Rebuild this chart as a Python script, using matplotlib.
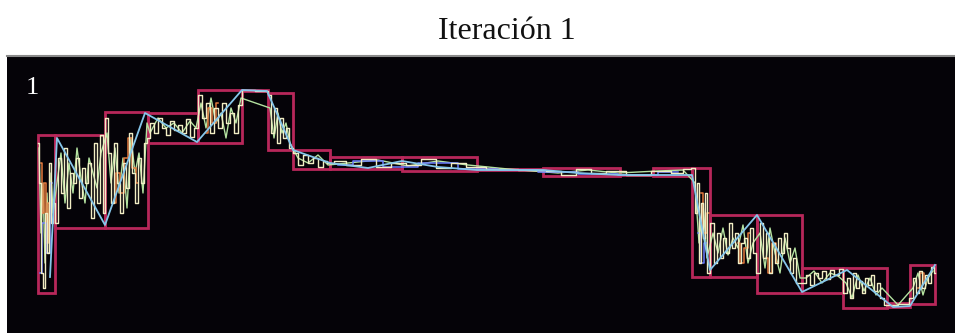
import numpy as np
import matplotlib.pyplot as plt
from matplotlib.patches import Rectangle

# segment boxes: start, end, min, max (time index / amplitude)
seg_start = [0, 17, 67, 110, 160, 204, 230, 255, 292, 364, 439, 505, 582, 615, 654, 672, 719, 764, 805, 849, 872]
seg_end = [17, 67, 110, 160, 204, 230, 255, 292, 364, 439, 505, 582, 615, 654, 672, 719, 764, 805, 849, 872, 897]
seg_min = [40, 105, 105, 190, 190, 242, 183, 164, 164, 162, 163, 157, 158, 157, 56, 56, 40, 40, 25, 26, 29]
seg_max = [198, 198, 221, 220, 243, 243, 240, 183, 176, 176, 164, 165, 158, 165, 165, 118, 118, 65, 65, 30, 68]

# pale / white trace
t_w = [0, 2, 4, 6, 8, 10, 12, 14, 16,
       18, 21, 24, 27, 30, 33, 36, 39, 42, 45, 48, 51, 54, 57, 60, 63, 66,
       68, 71, 74, 77, 80, 83, 86, 89, 92, 95, 98, 101, 104, 107,
       110, 114, 118, 122, 126, 130, 134, 138, 142, 146, 150, 154, 158,
       162, 166, 170, 174, 178, 182, 186, 190, 194, 198, 202,
       206, 228,
       231, 234, 237, 240, 243, 246, 249, 253,
       257, 262, 267, 272, 277, 282, 287, 291,
       300, 315, 330, 345, 360, 375, 390, 405, 420, 435,
       460, 500, 515, 530, 545, 560, 575, 600, 625, 640, 650,
       656, 658, 660, 662, 664, 666, 668, 670,
       674, 677, 680, 683, 686, 689, 692, 695, 698, 701, 704, 707, 710, 713, 716,
       720, 723, 726, 729, 732, 735, 738, 741, 744, 747, 750, 753, 756, 760,
       766, 770, 774, 778, 782, 786, 790, 794, 798, 803,
       807, 810, 813, 816, 819, 822, 825, 828, 831, 834, 837, 840, 844, 848,
       852, 868,
       873, 876, 879, 882, 885, 888, 891, 894, 897]
v_w = [190, 150, 60, 45, 120, 80, 170, 110, 130,
       110, 175, 140, 185, 125, 160, 150, 175, 135, 165, 150, 170, 115, 190, 130, 198, 120,
       215, 180, 130, 190, 150, 120, 170, 145, 200, 160, 130, 175, 150, 190,
       195, 210, 200, 215, 205, 198, 212, 203, 208, 200, 214, 196, 205,
       238, 215, 230, 200, 225, 205, 230, 210, 220, 200, 228,
       243, 242,
       238, 200, 225, 190, 215, 195, 205, 185,
       180, 168, 178, 170, 175, 166, 172, 170,
       172, 168, 174, 166, 170, 168, 174, 165, 170, 166,
       164, 163, 162, 158, 164, 160, 162, 158, 162, 160, 164,
       165, 120, 150, 70, 130, 95, 140, 60,
       110, 70, 100, 75, 95, 80, 110, 85, 100, 70, 90, 95, 75, 105, 80,
       60, 110, 75, 100, 60, 90, 70, 95, 80, 100, 85, 60, 75, 50,
       50, 58, 48, 60, 55, 62, 54, 63, 58, 64,
       40, 55, 35, 60, 45, 52, 40, 55, 48, 58, 42, 50, 35, 28,
       28, 29,
       35, 55, 40, 62, 45, 58, 50, 66, 60]

# light green trace
t_g = [1, 3, 5, 7, 9, 11, 13, 15,
       19, 23, 27, 31, 35, 39, 43, 47, 51, 55, 59, 63,
       69, 73, 77, 81, 85, 89, 93, 97, 101, 105, 109,
       112, 120, 128, 136, 144, 152, 158,
       163, 168, 173, 178, 183, 188, 193, 198, 203,
       232, 236, 240, 244, 248, 252,
       260, 270, 280, 290,
       310, 340, 370, 400, 430,
       470, 520, 550, 580, 620, 645,
       657, 661, 665, 669,
       675, 680, 685, 690, 695, 700, 705, 710, 715,
       722, 727, 732, 737, 742, 747, 752, 757, 762,
       768, 776, 784, 792, 800,
       808, 814, 820, 826, 832, 838, 844,
       860,
       875, 880, 885, 890, 895]
v_g = [185, 100, 150, 70, 140, 90, 160, 120,
       150, 180, 130, 170, 140, 185, 155, 130, 175, 160, 145, 180,
       200, 150, 185, 140, 175, 125, 195, 160, 180, 140, 210,
       200, 215, 205, 210, 200, 212, 205,
       230, 205, 235, 210, 220, 195, 225, 210, 235,
       225, 195, 220, 200, 210, 190,
       175, 170, 178, 168,
       170, 173, 167, 172, 168,
       164, 160, 163, 160, 162, 163,
       150, 90, 130, 75,
       100, 80, 105, 78, 95, 85, 108, 70, 90,
       100, 65, 105, 80, 60, 95, 70, 85, 55,
       55, 62, 50, 60, 57,
       50, 35, 58, 42, 55, 38, 45,
       28,
       45, 60, 38, 55, 62]

# orange fragments
t_o = [3, 5, 7, 9, 11, 76, 80, 84, 88, 92, 96, 100, 168, 172, 176, 180,
       663, 667, 671, 700, 704, 708, 712, 728, 732, 736, 740, 880, 884, 888]
v_o = [170, 120, 150, 90, 130, 130, 160, 140, 175, 195, 165, 150, 200, 225, 210, 230,
       140, 100, 120, 90, 70, 85, 100, 75, 60, 90, 70, 45, 60, 50]
o_groups = [5, 7, 4, 3, 4, 4, 3]

# blue trace
t_b = [2, 6, 10, 14, 300, 330, 360, 400, 440, 480, 520, 560, 600, 640, 660, 664, 668]
v_b = [60, 110, 80, 150, 168, 172, 166, 170, 164, 163, 161, 159, 158, 161, 100, 70, 90]
b_groups = [4, 10, 3]

# cyan trace (sparse)
t_c = [12, 19, 67, 107, 159, 204, 229, 255, 292, 330, 364, 400, 439, 505, 540, 582,
       615, 654, 672, 719, 764, 809, 855, 872, 897]
v_c = [56, 195, 108, 220, 191, 243, 242, 183, 170, 165, 172, 166, 163, 163, 160, 158,
       158, 158, 63, 118, 41, 63, 26, 27, 68]

fig = plt.figure(figsize=(9.55, 3.33), dpi=100)
ax = fig.add_axes([7 / 955, 0, 948 / 955, 277 / 333])
ax.set_facecolor("#050308")
ax.set_xlim(-31, 917)
ax.set_ylim(0, 277)
ax.set_xticks([])
ax.set_yticks([])
for s in ["left", "right", "bottom"]:
    ax.spines[s].set_visible(False)
ax.spines["top"].set_color("#8a8a8a")
ax.spines["top"].set_linewidth(1.5)

for x0, x1, lo, hi in zip(seg_start, seg_end, seg_min, seg_max):
    ax.add_patch(Rectangle((x0, lo), x1 - x0, hi - lo, fill=False,
                           edgecolor="#b8275a", linewidth=2.0, zorder=1))

ax.plot(t_g, v_g, color="#b4e2a0", lw=1.0, zorder=2)
ax.plot(t_w, v_w, color="#f1edc4", lw=1.0, drawstyle="steps-mid", zorder=3)


def plot_groups(t, v, groups, color):
    i = 0
    for n in groups:
        ax.plot(t[i:i + n], v[i:i + n], color=color, lw=1.1, drawstyle="steps-mid", zorder=2)
        i += n


plot_groups(t_o, v_o, o_groups, "#e2783c")
plot_groups(t_b, v_b, b_groups, "#6a7cff")
ax.plot(t_c, v_c, color="#86c6ea", lw=1.3, zorder=4)

ax.text(0.027, 0.885, "1", transform=ax.transAxes, color="white",
        fontsize=19, family="Liberation Serif", ha="center", va="center")

fig.text(0.531, 0.905, "Iteración 1", fontsize=23, family="Liberation Serif",
         ha="center", va="center", color="#111111")

plt.savefig("out.png", dpi=100)
